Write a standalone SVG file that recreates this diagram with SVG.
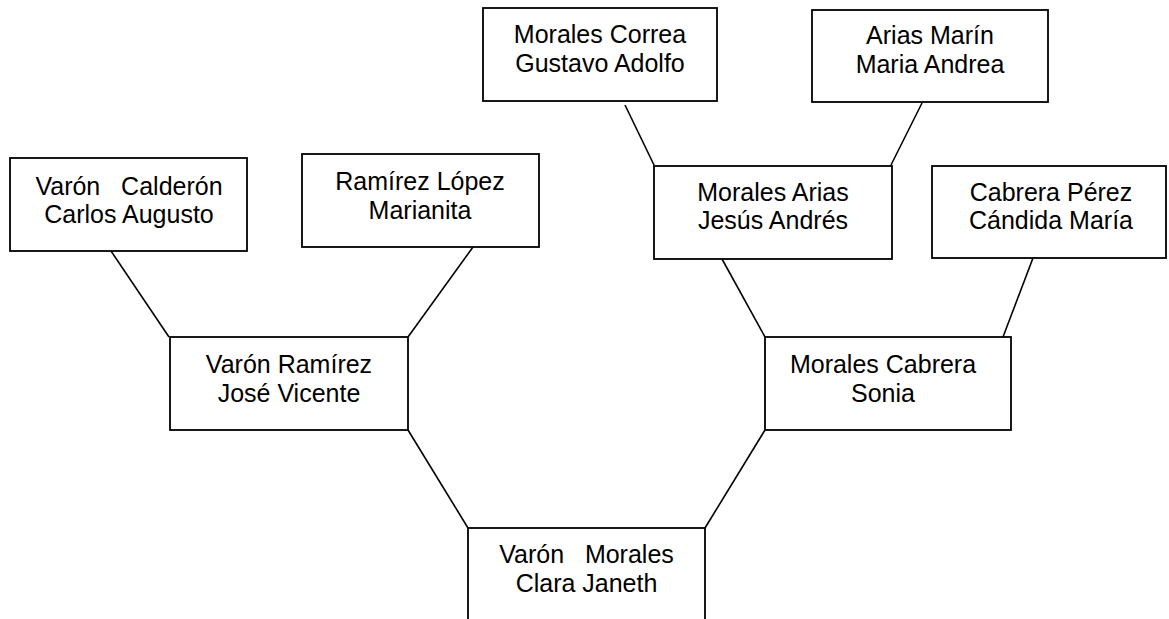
<svg xmlns="http://www.w3.org/2000/svg" width="1169" height="619" viewBox="0 0 1169 619">
<style>
.box{fill:#fff;stroke:#000;stroke-width:1.8}
.t{font-family:"Liberation Sans",Arial,sans-serif;font-size:25px;fill:#000;text-anchor:middle;white-space:pre}
.c{stroke:#000;stroke-width:1.6;fill:none}
</style>
<rect width="1169" height="619" fill="#fff"/>
<g id="connectors">
<line class="c" x1="111" y1="251" x2="169" y2="337"/>
<line class="c" x1="473" y1="247" x2="408" y2="337"/>
<line class="c" x1="625" y1="105" x2="654" y2="165"/>
<line class="c" x1="922" y1="103" x2="891" y2="165"/>
<line class="c" x1="722" y1="259" x2="765" y2="337"/>
<line class="c" x1="1033" y1="258" x2="1003" y2="337"/>
<line class="c" x1="408" y1="430" x2="468" y2="528"/>
<line class="c" x1="765" y1="430" x2="705" y2="528"/>
</g>
<g id="n-varon-calderon">
<rect class="box" x="10" y="158" width="237" height="93"/>
<text class="t" x="129" y="195" xml:space="preserve">Varón   Calderón</text>
<text class="t" x="129" y="223">Carlos Augusto</text>
</g>
<g id="n-ramirez-lopez">
<rect class="box" x="302" y="154" width="237" height="93"/>
<text class="t" x="420" y="190">Ramírez López</text>
<text class="t" x="420" y="219">Marianita</text>
</g>
<g id="n-morales-correa">
<rect class="box" x="483" y="8" width="234" height="93"/>
<text class="t" x="600" y="43">Morales Correa</text>
<text class="t" x="600" y="72">Gustavo Adolfo</text>
</g>
<g id="n-arias-marin">
<rect class="box" x="812" y="10" width="236" height="92"/>
<text class="t" x="930" y="44">Arias Marín</text>
<text class="t" x="930" y="73">Maria Andrea</text>
</g>
<g id="n-morales-arias">
<rect class="box" x="654" y="166" width="238" height="93"/>
<text class="t" x="773" y="201">Morales Arias</text>
<text class="t" x="773" y="229">Jesús Andrés</text>
</g>
<g id="n-cabrera-perez">
<rect class="box" x="932" y="166" width="234" height="92"/>
<text class="t" x="1051" y="201">Cabrera Pérez</text>
<text class="t" x="1051" y="229">Cándida María</text>
</g>
<g id="n-varon-ramirez">
<rect class="box" x="170" y="337" width="238" height="93"/>
<text class="t" x="289" y="373">Varón Ramírez</text>
<text class="t" x="289" y="402">José Vicente</text>
</g>
<g id="n-morales-cabrera">
<rect class="box" x="765" y="337" width="246" height="93"/>
<text class="t" x="883" y="373">Morales Cabrera</text>
<text class="t" x="883" y="402">Sonia</text>
</g>
<g id="n-varon-morales">
<rect class="box" x="468" y="528" width="237" height="100"/>
<text class="t" x="586.5" y="563" xml:space="preserve">Varón   Morales</text>
<text class="t" x="586.5" y="592">Clara Janeth</text>
</g>
</svg>
